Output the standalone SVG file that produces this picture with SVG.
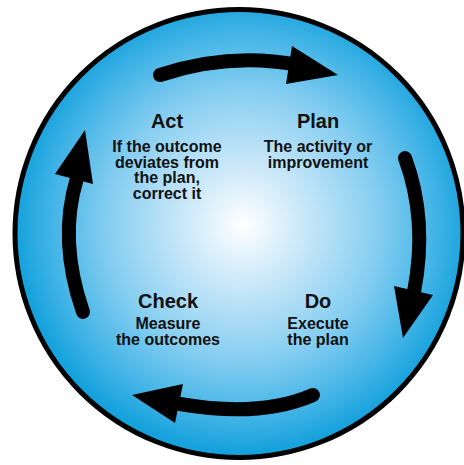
<svg xmlns="http://www.w3.org/2000/svg" width="464" height="465" viewBox="0 0 464 465">
<defs>
<radialGradient id="bg" cx="243" cy="225" r="228" gradientUnits="userSpaceOnUse">
<stop offset="0" stop-color="#ffffff"/>
<stop offset="0.25" stop-color="#cde9f9"/>
<stop offset="0.6" stop-color="#84cdf0"/>
<stop offset="0.85" stop-color="#40b3e6"/>
<stop offset="1" stop-color="#14a1dc"/>
</radialGradient>
<style>
.shaft{fill:none;stroke:#000;stroke-width:14;stroke-linecap:round}
.head{fill:#000}
.t{font-family:"Liberation Sans",Arial,sans-serif;font-weight:bold;fill:#111;text-anchor:middle}
.h{font-size:20px}
.b{font-size:16px}
</style>
</defs>
<rect width="464" height="465" fill="#fff"/>
<circle cx="239" cy="233.5" r="224" fill="url(#bg)" stroke="#000" stroke-width="5"/>
<g id="connectors">
<g id="arrow-plan-do">
<path class="shaft" d="M160 75 Q230 52 298 65"/>
<polygon class="head" points="292,46 338,75 286,84"/>
</g>
<g id="arrow-do-check">
<path class="shaft" d="M405 158 Q428 220 414 292"/>
<polygon class="head" points="394,286 433,295 403,338"/>
</g>
<g id="arrow-check-act">
<path class="shaft" d="M313 395 Q260 418 180 404"/>
<polygon class="head" points="183,384 132,395 175,423"/>
</g>
<g id="arrow-act-plan">
<path class="shaft" d="M83 312 Q58 240 77 178"/>
<polygon class="head" points="55,174 85,130 93,184"/>
</g>
</g>
<g id="act">
<text class="t h" x="167" y="128">Act</text>
<text class="t b" x="167" y="152">If the outcome</text>
<text class="t b" x="167" y="167.5">deviates from</text>
<text class="t b" x="167" y="183">the plan,</text>
<text class="t b" x="167" y="198.5">correct it</text>
</g>
<g id="plan">
<text class="t h" x="318" y="128">Plan</text>
<text class="t b" x="318" y="152">The activity or</text>
<text class="t b" x="318" y="167.5">improvement</text>
</g>
<g id="check">
<text class="t h" x="168" y="307.5">Check</text>
<text class="t b" x="168" y="328.5">Measure</text>
<text class="t b" x="168" y="344.5">the outcomes</text>
</g>
<g id="do">
<text class="t h" x="318" y="307.5">Do</text>
<text class="t b" x="318" y="328.5">Execute</text>
<text class="t b" x="318" y="344.5">the plan</text>
</g>
</svg>
